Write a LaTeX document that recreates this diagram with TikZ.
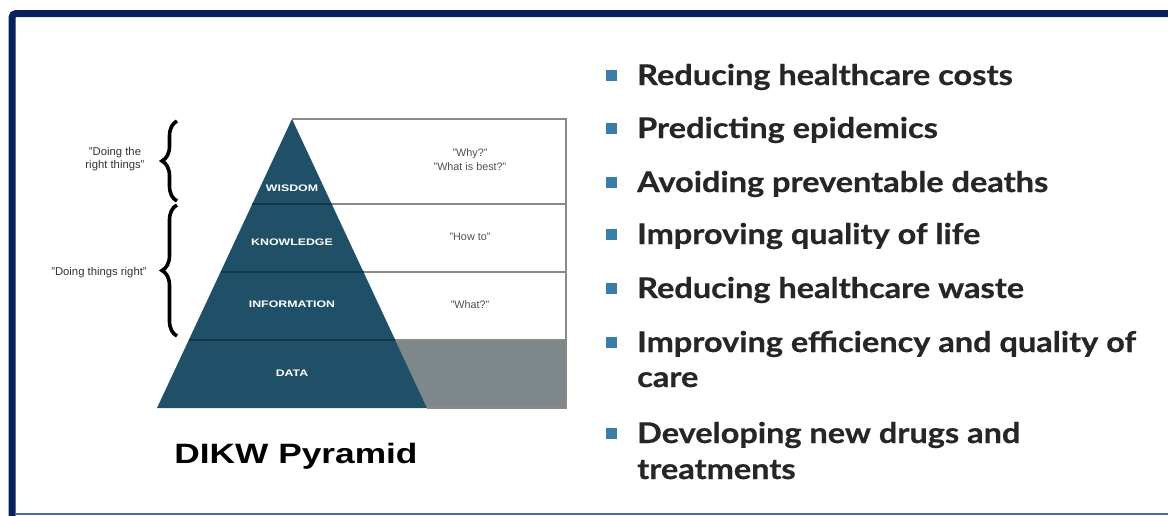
\documentclass[tikz,border=0pt]{standalone}
\usepackage{fontspec}
\setmainfont{Liberation Sans}
\newfontfamily\bulletfont{Lato}[BoldFeatures={FakeBold=0.6}]
\usetikzlibrary{decorations.pathreplacing}
\definecolor{navy}{HTML}{0A2160}
\definecolor{rulebl}{HTML}{4A6AA0}
\definecolor{pyr}{HTML}{1F5068}
\definecolor{pyrline}{HTML}{123848}
\definecolor{tabline}{HTML}{8A8A8A}
\definecolor{datagray}{HTML}{7E888A}
\definecolor{qtext}{HTML}{505050}
\definecolor{btext}{HTML}{262626}
\definecolor{bsq}{HTML}{3A7EA8}
% wide bullet text
\newcommand{\wideline}[1]{\scalebox{1.14}[1]{#1}}
\begin{document}
\begin{tikzpicture}[x=1pt,y=-1pt,
  lvl/.style={text=white,font=\fontsize{9.5}{11}\selectfont\bfseries,inner sep=0},
  qlabel/.style={text=qtext,font=\fontsize{10.8}{14}\selectfont,align=center,inner sep=0},
  side/.style={text=black!80,font=\fontsize{11.3}{13.5}\selectfont,align=center,inner sep=0},
  bitem/.style={anchor=base west,text=btext,font=\bulletfont\bfseries\fontsize{28.5}{32}\selectfont,inner sep=0},
  bsquare/.style={fill=bsq,minimum size=11pt,inner sep=0},
  bracebar/.style={decorate,decoration={brace,amplitude=15pt,aspect=0.5},line width=3.6pt,black}]
\useasboundingbox (0,0) rectangle (1168,515);
\fill[white] (0,0) rectangle (1168,515);

% slide frame
\draw[navy,line width=7pt,rounded corners=4pt] (1172,13.5) -- (12,13.5) -- (12,520);
\draw[rulebl,line width=2pt] (15,514) -- (1172,514);

% table to the right of the pyramid
\fill[datagray] (395.2,340) -- (566,340) -- (566,408) -- (427,408) -- cycle;
\draw[tabline,line width=1.2pt] (292,119) -- (566,119) -- (566,408) -- (427,408);
\draw[tabline,line width=1.2pt] (331.7,204) -- (566,204);
\draw[tabline,line width=1.2pt] (363.5,272) -- (566,272);
\draw[tabline,line width=1.2pt] (395.2,340) -- (566,340);

% pyramid
\fill[pyr] (292,119) -- (427,408) -- (157,408) -- cycle;
\draw[pyrline,line width=1.6pt] (252.3,204) -- (331.7,204);
\draw[pyrline,line width=1.6pt] (220.5,272) -- (363.5,272);
\draw[pyrline,line width=1.6pt] (188.8,340) -- (395.2,340);

\node[lvl] (wis) at (292,188) {\scalebox{1.3}[1]{WISDOM}};
\node[lvl] (kno) at (292,242) {\scalebox{1.3}[1]{KNOWLEDGE}};
\node[lvl] (inf) at (292,304) {\scalebox{1.3}[1]{INFORMATION}};
\node[lvl] (dat) at (292,373) {\scalebox{1.3}[1]{DATA}};

\node[qlabel] (qwhy) at (470,160) {"Why?"\\"What is best?"};
\node[qlabel] (qhow) at (470,237) {"How to"};
\node[qlabel] (qwhat) at (470,305) {"What?"};

% braces on the left
\coordinate (b1t) at (177,121);
\coordinate (b1b) at (177,201);
\coordinate (b2t) at (177,205);
\coordinate (b2b) at (177,336);
\draw[bracebar] (b1b) -- (b1t);
\draw[bracebar] (b2b) -- (b2t);
\node[side] (right) at (115,159) {"Doing the\\right things"};
\node[side] (things) at (99,273) {"Doing things right"};

\node[font=\fontsize{28}{30}\selectfont\bfseries,inner sep=0,anchor=base] (title) at (296,463) {\scalebox{1.26}[1]{DIKW Pyramid}};

% bullet list
\node[bitem] (l1) at (637,85) {\wideline{Reducing healthcare costs}};
\node[bitem] (l2) at (637,138) {\wideline{Predicting epidemics}};
\node[bitem] (l3) at (637,192) {\wideline{Avoiding preventable deaths}};
\node[bitem] (l4) at (637,244) {\wideline{Improving quality of life}};
\node[bitem] (l5) at (637,298) {\wideline{Reducing healthcare waste}};
\node[bitem] (l6) at (637,352) {\wideline{Improving efficiency and quality of}};
\node[bitem] (l6b) at (637,387) {\wideline{care}};
\node[bitem] (l7) at (637,443) {\wideline{Developing new drugs and}};
\node[bitem] (l7b) at (637,479) {\wideline{treatments}};
\foreach \n/\y in {s1/75.5,s2/128.5,s3/182.5,s4/234.5,s5/288.5,s6/342.5,s7/433.5}
  \node[bsquare] (\n) at (611,\y) {};
\end{tikzpicture}
\end{document}
